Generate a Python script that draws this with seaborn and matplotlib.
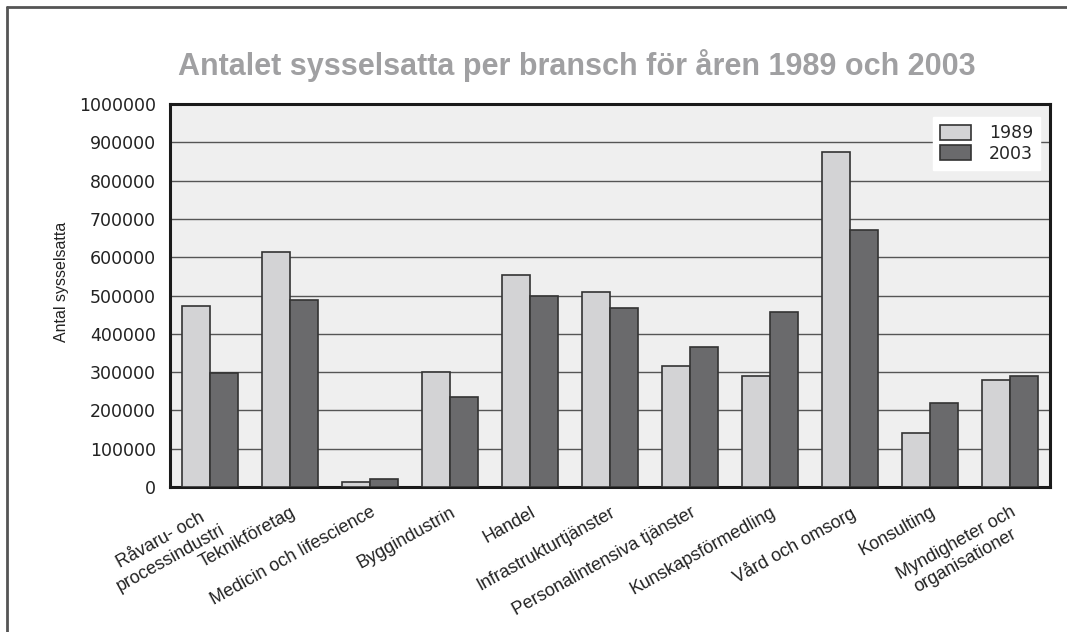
import numpy as np
import pandas as pd
import matplotlib.pyplot as plt
import seaborn as sns
from matplotlib import font_manager

sns.set_style("white")
plt.rcParams['font.family'] = ['Liberation Sans', 'DejaVu Sans']

branscher = ['Råvaru- och\nprocessindustri', 'Teknikföretag', 'Medicin och lifescience',
             'Byggindustrin', 'Handel', 'Infrastrukturtjänster', 'Personalintensiva tjänster',
             'Kunskapsförmedling', 'Vård och omsorg', 'Konsulting',
             'Myndigheter och\norganisationer']
ar_1989 = [473000, 614000, 12000, 300000, 553000, 508000, 315000, 291000, 874000, 141000, 280000]
ar_2003 = [298000, 488000, 21000, 234000, 499000, 467000, 366000, 456000, 672000, 219000, 289000]
ar = ['1989', '2003']
y_ticks = [0, 100000, 200000, 300000, 400000, 500000, 600000, 700000, 800000, 900000, 1000000]

df = pd.DataFrame({
    'bransch': branscher * 2,
    'ar': [ar[0]] * len(branscher) + [ar[1]] * len(branscher),
    'antal': ar_1989 + ar_2003,
})

# smal font till y-etiketten om den finns
namn = {f.name for f in font_manager.fontManager.ttflist}
smal = 'Liberation Sans Narrow' if 'Liberation Sans Narrow' in namn else 'Liberation Sans'

fig = plt.figure(figsize=(10.67, 6.32), dpi=100)
ax = fig.add_axes([0.1593, 0.2294, 0.8247, 0.606])
ax.set_facecolor('#efefef')

sns.barplot(data=df, x='bransch', y='antal', hue='ar', order=branscher, hue_order=ar,
            palette=['#d3d3d5', '#6a6a6c'], width=0.7, edgecolor='#333333', linewidth=1.2,
            saturation=1, ax=ax, zorder=3)

ax.set_ylim(0, 1000000)
ax.set_xlim(-0.5, len(branscher) - 0.5)
ax.set_yticks(y_ticks)
ax.set_yticklabels([str(v) for v in y_ticks], family='DejaVu Sans', fontsize=12.5, color='#222222')
ax.yaxis.grid(True, color='#555555', linewidth=1.0, zorder=0)
ax.set_axisbelow(True)
ax.tick_params(axis='y', length=0, pad=10)

# etiketter i mitten, tickstreck mellan grupperna
ax.set_xticks(np.arange(len(branscher)))
ax.set_xticklabels(branscher, rotation=29, ha='right', rotation_mode='anchor',
                   fontsize=13, color='#222222', multialignment='center')
ax.tick_params(axis='x', which='major', length=0, pad=12)
ax.set_xticks(np.arange(0.5, len(branscher) - 1, 1), minor=True)
ax.tick_params(axis='x', which='minor', length=8, width=2, color='#111111', direction='out')

for s in ax.spines.values():
    s.set_linewidth(2.2)
    s.set_color('#1a1a1a')

ax.set_xlabel('')
ax.set_ylabel('Antal sysselsatta', fontsize=11.5, color='#222222', family=smal)
ax.yaxis.set_label_coords(-0.115, 0.535)

leg = ax.legend(title=None, loc='upper right', bbox_to_anchor=(0.9886, 0.966), frameon=True,
                fancybox=False, edgecolor='white', facecolor='white', framealpha=1,
                prop={'family': 'DejaVu Sans', 'size': 12.5}, handlelength=1.8,
                handleheight=0.95, borderpad=0.4, handletextpad=1.0, labelspacing=0.15,
                borderaxespad=0)

fig.text(0.541, 0.897, 'Antalet sysselsatta per bransch för åren 1989 och 2003',
         ha='center', va='center', fontsize=22, color='#a0a0a2', fontweight='bold')

# ram runt bilden (bara topp och vänster)
fig.add_artist(plt.Line2D([0.0066, 0.0066], [0, 0.989], color='#555555', linewidth=2,
                          transform=fig.transFigure))
fig.add_artist(plt.Line2D([0.0066, 1.0], [0.989, 0.989], color='#555555', linewidth=2,
                          transform=fig.transFigure))

fig.savefig('out.png', dpi=100)
